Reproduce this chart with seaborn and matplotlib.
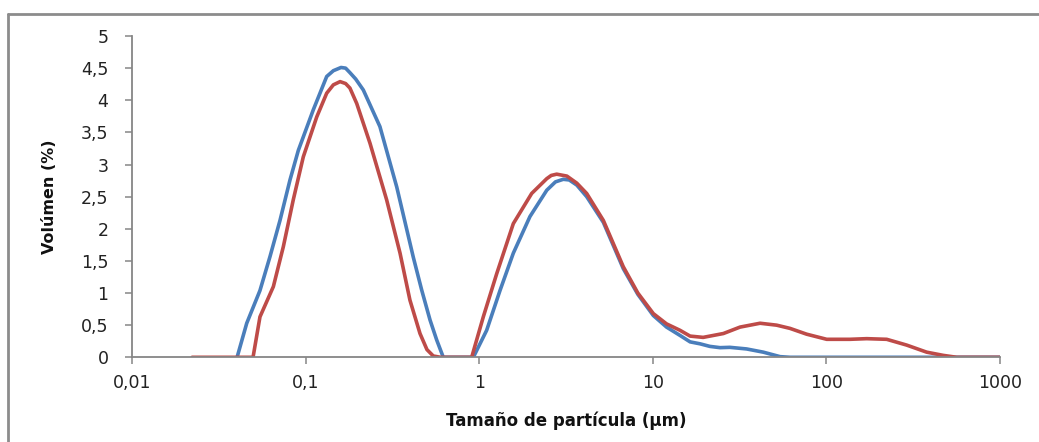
import matplotlib
matplotlib.use("Agg")
import matplotlib.pyplot as plt
import seaborn as sns
import numpy as np
import pandas as pd
from matplotlib.lines import Line2D
from matplotlib.ticker import FixedLocator, FuncFormatter, NullLocator

# ---- data ----
blue_x = [0.0403, 0.0458, 0.0546, 0.0624, 0.0712, 0.0813, 0.0908, 0.1107, 0.1323, 0.1445,
          0.16, 0.170, 0.180, 0.1944, 0.215, 0.268, 0.335, 0.417, 0.466, 0.521,
          0.569, 0.621, 0.925, 1.104, 1.318, 1.572, 1.96, 2.45, 2.75, 3.05,
          3.3, 3.65, 4.16, 5.19, 6.76, 8.2, 10.07, 12.0, 14.35, 16.4,
          18.7, 21.3, 24.4, 27.8, 34.7, 43.3, 54.1, 61.7, 1000]
blue_y = [0.0, 0.53, 1.04, 1.57, 2.13, 2.76, 3.22, 3.85, 4.37, 4.46,
          4.51, 4.50, 4.43, 4.33, 4.16, 3.59, 2.65, 1.56, 1.05, 0.58,
          0.27, 0.0, 0.0, 0.42, 1.04, 1.62, 2.19, 2.60, 2.73, 2.77,
          2.76, 2.68, 2.50, 2.10, 1.38, 0.98, 0.65, 0.47, 0.34, 0.24,
          0.21, 0.17, 0.15, 0.155, 0.13, 0.08, 0.01, 0.0, 0.0]

red_x = [0.0222, 0.0498, 0.0546, 0.0652, 0.0744, 0.0849, 0.0970, 0.1159, 0.1323, 0.1445,
         0.158, 0.170, 0.180, 0.197, 0.235, 0.293, 0.350, 0.399, 0.456, 0.50,
         0.544, 0.60, 0.905, 1.056, 1.261, 1.572, 2.006, 2.45, 2.6, 2.795,
         3.2, 3.65, 4.16, 5.19, 6.76, 8.2, 10.07, 12.0, 14.35, 16.4,
         19.5, 25.5, 31.8, 41.5, 51.7, 61.7, 76.9, 100.4, 136.7, 170.6,
         222.5, 290, 378, 471, 563, 1000]
red_y = [0.0, 0.0, 0.63, 1.10, 1.72, 2.45, 3.12, 3.74, 4.11, 4.24,
         4.29, 4.26, 4.19, 3.95, 3.33, 2.45, 1.62, 0.89, 0.37, 0.12,
         0.02, 0.0, 0.0, 0.63, 1.30, 2.08, 2.55, 2.78, 2.83, 2.85,
         2.82, 2.71, 2.55, 2.13, 1.41, 1.00, 0.68, 0.52, 0.42, 0.33,
         0.31, 0.37, 0.47, 0.53, 0.50, 0.45, 0.36, 0.28, 0.28, 0.29,
         0.28, 0.19, 0.08, 0.03, 0.0, 0.0]

x_ticks = [0.01, 0.1, 1, 10, 100, 1000]
y_ticks = [0, 0.5, 1, 1.5, 2, 2.5, 3, 3.5, 4, 4.5, 5]
x_label = "Tamaño de partícula (µm)"
y_label = "Volúmen (%)"

blue_c = "#4A7EBB"
red_c = "#BE4B48"
axis_c = "#868686"

sns.set_theme(style="white")
plt.rcParams["font.family"] = ["DejaVu Sans"]

fig = plt.figure(figsize=(10.39, 4.42), dpi=100)
ax = fig.add_axes([132/1039, 1 - 357.3/442, (1000-132)/1039, (357.3-36)/442])

sns.lineplot(x=blue_x, y=blue_y, ax=ax, color=blue_c, lw=2.6, sort=False)
sns.lineplot(x=red_x, y=red_y, ax=ax, color=red_c, lw=2.6, sort=False)
for ln in ax.lines:
    ln.set_solid_joinstyle("round")
    ln.set_solid_capstyle("round")

ax.set_xscale("log")
ax.set_xlim(0.01, 1000)
ax.set_ylim(0, 5)

def comma(v, pos=None):
    s = ("%g" % v)
    return s.replace(".", ",")

ax.xaxis.set_major_locator(FixedLocator(x_ticks))
ax.xaxis.set_minor_locator(NullLocator())
ax.xaxis.set_major_formatter(FuncFormatter(comma))
ax.yaxis.set_major_locator(FixedLocator(y_ticks))
ax.yaxis.set_major_formatter(FuncFormatter(comma))

for s in ["top", "right"]:
    ax.spines[s].set_visible(False)
for s in ["left", "bottom"]:
    ax.spines[s].set_color(axis_c)
    ax.spines[s].set_linewidth(1.3)

ax.tick_params(axis="x", which="major", direction="out", length=5, width=1.1,
               color=axis_c, pad=7, labelsize=12.5, labelcolor="#222222", bottom=True)
ax.tick_params(axis="y", which="major", direction="out", length=5, width=1.1,
               color=axis_c, pad=12, labelsize=12.5, labelcolor="#222222", left=True)
ax.grid(False)

ax.set_xlabel(x_label, fontsize=12, fontweight="bold", color="#111111", labelpad=8)
ax.set_ylabel(y_label, fontsize=11.5, fontweight="bold", color="#111111", labelpad=12)
ax.xaxis.set_label_coords(0.50, -0.17)
ax.yaxis.set_label_coords(-0.086, 0.5)

# outer chart frame (partially cropped in reference)
frame_c = "#8C8C8C"
x0 = 8/1039
y0 = 1 - 14/442
fig.add_artist(Line2D([x0, x0], [0, y0], transform=fig.transFigure, color=frame_c, lw=2))
fig.add_artist(Line2D([x0, 1], [y0, y0], transform=fig.transFigure, color=frame_c, lw=2))

fig.savefig("out.png", dpi=100, facecolor="white")
